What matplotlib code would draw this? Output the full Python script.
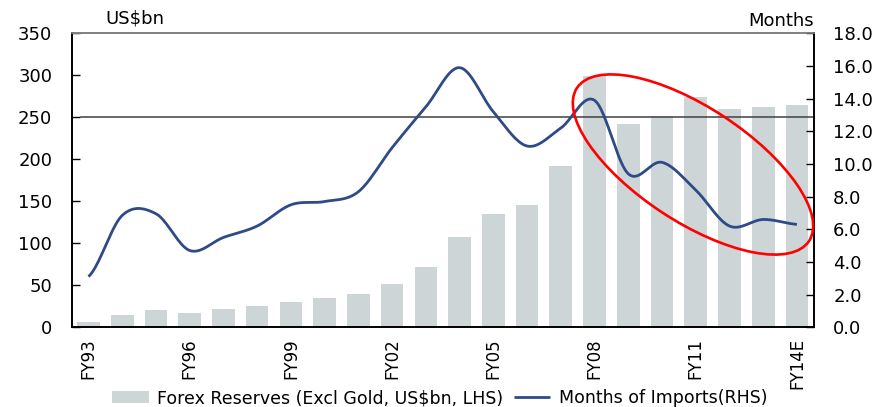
import numpy as np
import matplotlib
matplotlib.use("Agg")
from matplotlib import pyplot as plt
from matplotlib.patches import Ellipse
from matplotlib.transforms import IdentityTransform, ScaledTranslation

years = ["FY93", "FY94", "FY95", "FY96", "FY97", "FY98", "FY99", "FY00", "FY01",
         "FY02", "FY03", "FY04", "FY05", "FY06", "FY07", "FY08", "FY09", "FY10",
         "FY11", "FY12", "FY13", "FY14E"]
reserves = [6.4, 15, 20.8, 17, 22, 25.5, 29.5, 35, 39.6, 51, 71.9, 107, 135, 145,
            191.9, 299, 241.7, 252, 274, 260, 262, 265]
months = [3.1, 6.85, 6.95, 4.7, 5.5, 6.2, 7.5, 7.7, 8.3, 11.0, 13.5, 15.9, 13.2,
          11.1, 12.2, 13.9, 9.4, 10.1, 8.4, 6.2, 6.6, 6.3]
shown_ticks = ["FY93", "FY96", "FY99", "FY02", "FY05", "FY08", "FY11", "FY14E"]

BAR_COLOR = "#cdd5d7"
LINE_COLOR = "#2e4a87"


def smooth(xs, ys, steps=20):
    # catmull-rom curve through the points, like a spreadsheet "smoothed line"
    xs = np.asarray(xs, float)
    ys = np.asarray(ys, float)
    p = np.concatenate([[ys[0]], ys, [ys[-1]]])
    out_x, out_y = [], []
    for i in range(len(ys) - 1):
        m0 = (p[i + 2] - p[i]) / 2
        m1 = (p[i + 3] - p[i + 1]) / 2
        t = np.linspace(0, 1, steps, endpoint=False)
        h00 = 2 * t**3 - 3 * t**2 + 1
        h10 = t**3 - 2 * t**2 + t
        h01 = -2 * t**3 + 3 * t**2
        h11 = t**3 - t**2
        out_y.extend(h00 * p[i + 1] + h10 * m0 + h01 * p[i + 2] + h11 * m1)
        out_x.extend(xs[i] + t * (xs[i + 1] - xs[i]))
    out_x.append(xs[-1])
    out_y.append(ys[-1])
    return out_x, out_y


fig = plt.figure(figsize=(8.76, 4.07), dpi=100)
ax = fig.add_axes([0.0818, 0.196, 0.8472, 0.722])
ax2 = ax.twinx()

x = np.arange(len(years))
ax.bar(x, reserves, width=0.67, color=BAR_COLOR, label="Forex Reserves (Excl Gold, US$bn, LHS)")
ax.axhline(250, xmin=0.013, xmax=1, color="#404040", lw=1.1)

sx, sy = smooth(x, months)
ax2.plot(sx, sy, color=LINE_COLOR, lw=2.0, label="Months of Imports(RHS)",
         solid_capstyle="butt")

ax.set_xlim(-0.5, len(years) - 0.5)
ax.set_ylim(0, 350)
ax2.set_ylim(0, 18)
ax.set_yticks(np.arange(0, 351, 50))
ax2.set_yticks(np.arange(0, 18.1, 2))
ax2.set_yticklabels([f"{v:.1f}" for v in np.arange(0, 18.1, 2)])

ax.set_xticks([years.index(t) for t in shown_ticks])
ax.set_xticklabels(shown_ticks, rotation=90, family="Liberation Sans Narrow",
                   fontsize=12, va="top", ha="center")
shift = ScaledTranslation(-4 / 100, 0, fig.dpi_scale_trans)
for lbl in ax.get_xticklabels():
    lbl.set_transform(lbl.get_transform() + shift)
ax.tick_params(axis="x", length=0, pad=8)
ax.tick_params(axis="y", direction="in", length=5.5, labelsize=13, pad=14, width=1)
ax2.tick_params(axis="y", direction="in", length=5.5, labelsize=13, pad=14, width=1)

for a in (ax, ax2):
    a.spines["top"].set_color("#808080")
    a.spines["top"].set_linewidth(1.2)
    for s in ("left", "right", "bottom"):
        a.spines[s].set_linewidth(1.2)
        a.spines[s].set_color("black")

fig.text(105 / 876, 1 - 19 / 407, "US$bn", fontsize=13, va="center", ha="left")
fig.text(814 / 876, 1 - 21 / 407, "Months", fontsize=13, va="center", ha="right")

# red ellipse highlighting the recent decline (drawn in pixel space)
ell = Ellipse((693, 407 - 164.5), width=278, height=114, angle=-33.4,
              fill=False, edgecolor="#ff0000", lw=1.9, transform=IdentityTransform())
fig.add_artist(ell)

h1, l1 = ax.get_legend_handles_labels()
h2, l2 = ax2.get_legend_handles_labels()
fig.legend(h1 + h2, l1 + l2, loc="center", bbox_to_anchor=(440 / 876, 1 - 398 / 407),
           ncol=2, frameon=False, fontsize=12.5, handlelength=2.1, handleheight=0.7,
           columnspacing=0.6, handletextpad=0.5)

fig.savefig("out.png", dpi=100)
